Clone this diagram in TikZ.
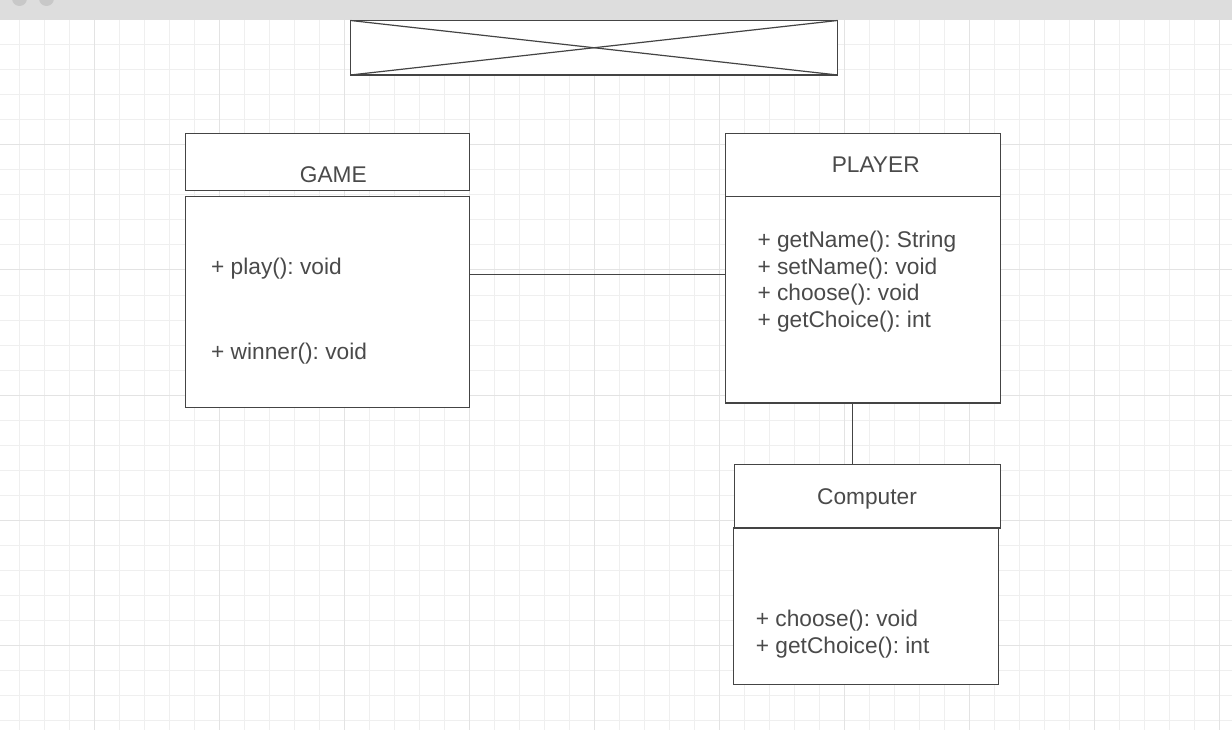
\documentclass[tikz,border=0pt]{standalone}
\usepackage{fontspec}
\setmainfont{Liberation Sans}
\usetikzlibrary{positioning}
\definecolor{umlline}{HTML}{444444}
\definecolor{umltext}{HTML}{4A4A4A}
\definecolor{barfill}{HTML}{DDDDDD}
\definecolor{barbtn}{HTML}{C8C8C8}
\definecolor{gridminor}{HTML}{EFEFEF}
\definecolor{gridmajor}{HTML}{E3E3E3}
\frenchspacing

\begin{document}
\begin{tikzpicture}[x=1pt, y=-1pt,
  umlbox/.style = {draw=umlline, line width=1.2pt, fill=white, rectangle, outer sep=0pt, inner sep=0pt, anchor=north west},
  title/.style = {text=umltext, inner sep=0pt, font=\fontsize{22.7}{27}\selectfont, anchor=base},
  method/.style = {text=umltext, inner sep=0pt, font=\fontsize{22.7}{27}\selectfont, anchor=base west},
  link/.style = {draw=umlline, line width=1.2pt}]
\useasboundingbox (0,0) rectangle (1232,730);
\fill[white] (0,0) rectangle (1232,730);

% grid
\foreach \i in {0,...,48}
  \draw[gridminor, line width=1pt] (19.3+25*\i,20) -- (19.3+25*\i,730);
\foreach \k in {1,...,28}
  \draw[gridminor, line width=1pt] (0,20+25*\k) -- (1232,20+25*\k);
\foreach \i in {0,...,9}
  \draw[gridmajor, line width=1pt] (94.3+125*\i,20) -- (94.3+125*\i,730);
\foreach \k in {1,...,5}
  \draw[gridmajor, line width=1pt] (0,20+125*\k) -- (1232,20+125*\k);

% window bar
\fill[barfill] (0,0) rectangle (1232,20);
\begin{scope}
  \clip (0,0) rectangle (1232,20);
  \fill[barbtn] (19.5,-1.5) circle (7.5);
  \fill[barbtn] (46.5,-1.5) circle (7.5);
\end{scope}

% image placeholder
\node[umlbox, minimum width=487pt, minimum height=54.5pt] (banner) at (350.5,20.5) {};
\draw[link] (banner.north west) -- (banner.south east);
\draw[link] (banner.south west) -- (banner.north east);

% classes
\node[umlbox, minimum width=284pt, minimum height=57.4pt] (gamehead) at (185.5,133.3) {};
\node[umlbox, minimum width=284pt, minimum height=211pt] (gamebody) [below=5.6pt of gamehead.south west, anchor=north west] {};
\node[umlbox, minimum width=275pt, minimum height=63pt] (playerhead) at (725.5,133.3) {};
\node[umlbox, minimum width=275pt, minimum height=206.7pt] (playerbody) [below=0pt of playerhead.south west, anchor=north west] {};
\node[umlbox, minimum width=266.4pt, minimum height=63.7pt] (comphead) at (734.3,464.3) {};
\node[umlbox, minimum width=265pt, minimum height=156.7pt] (compbody) at (733.3,528) {};

\node[title] (gamename) at (333.3,182.3) {GAME};
\node[title] (playername) at (875.7,172.3) {PLAYER};
\node[title] (compname) at (867,504) {Computer};

\node[method] (play) at (211,275) {+ play(): void};
\node[method] (winner) at (211,359) {+ winner(): void};
\node[method] (getname) at (757.3,247.7) {+ getName(): String};
\node[method] (setname) at (757.3,274.2) {+ setName(): void};
\node[method] (choose) at (757.3,300.7) {+ choose(): void};
\node[method] (getchoice) at (757.3,327.2) {+ getChoice(): int};
\node[method] (compchoose) at (755.7,626.7) {+ choose(): void};
\node[method] (compgetchoice) at (755.7,653.3) {+ getChoice(): int};

% connectors
\coordinate (assoc) at (600,274.3);
\coordinate (inherit) at (852.3,430);
\draw[link] (gamebody.east |- assoc) -- (playerbody.west |- assoc);
\draw[link] (playerbody.south -| inherit) -- (comphead.north -| inherit);
\end{tikzpicture}
\end{document}
